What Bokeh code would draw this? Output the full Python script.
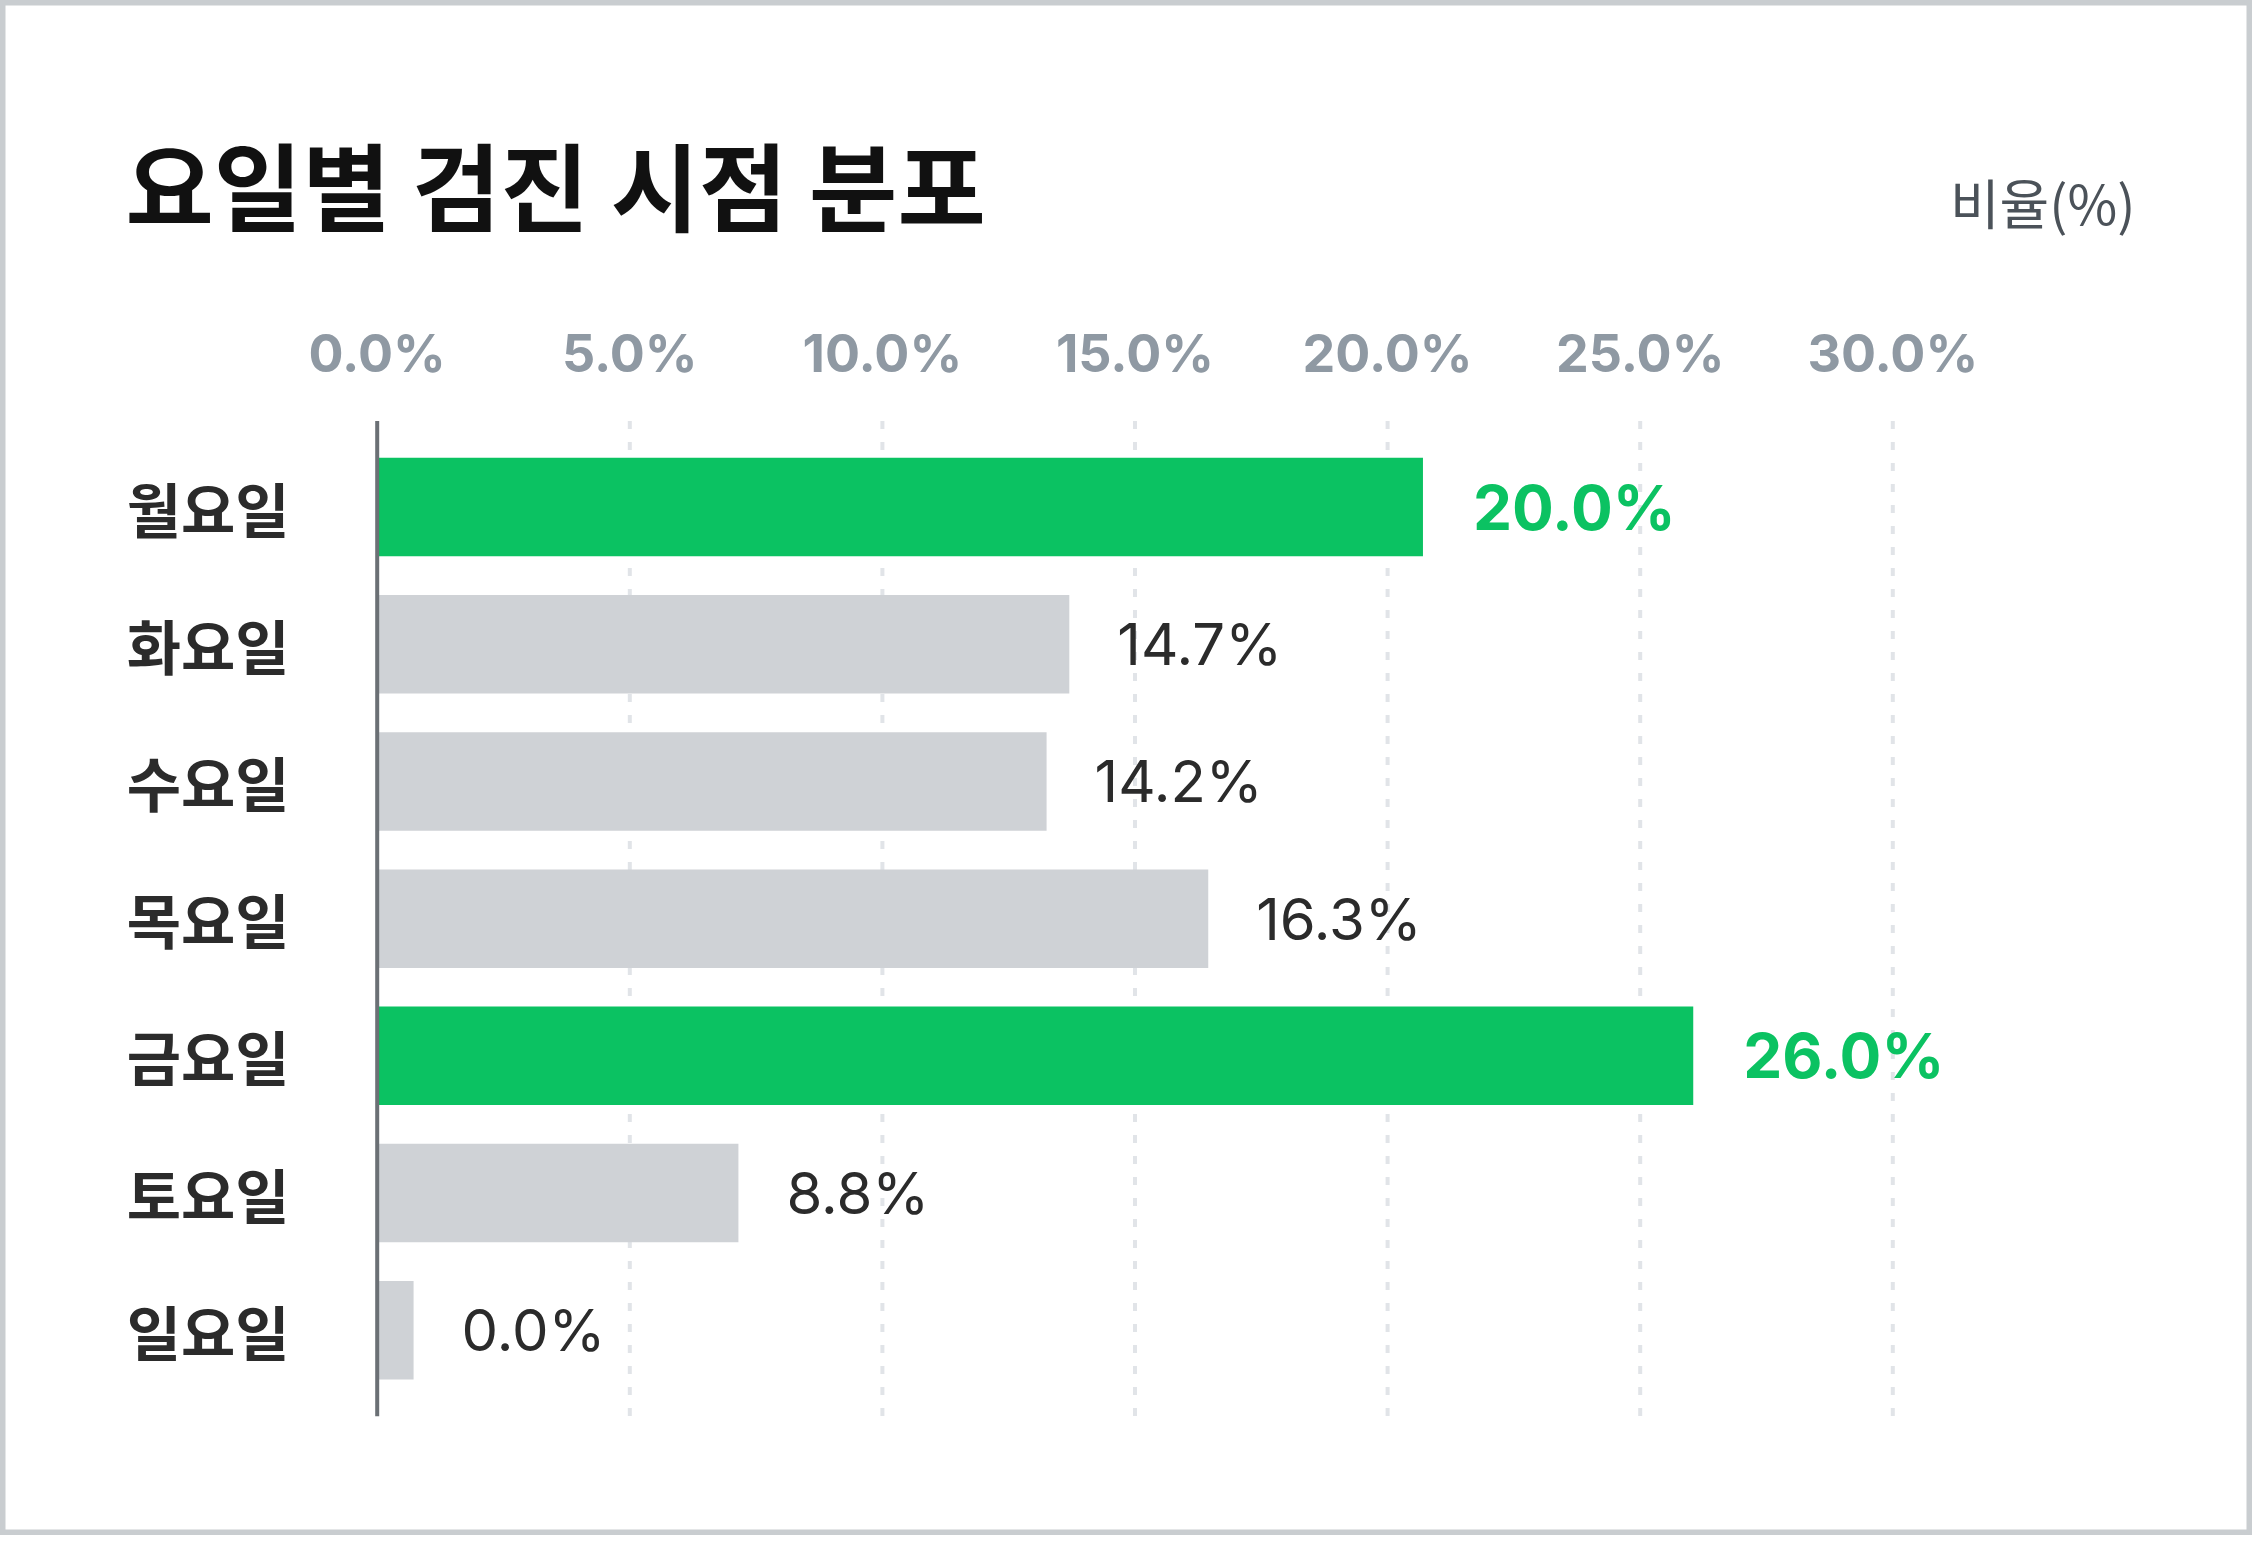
from bokeh.plotting import figure
from bokeh.models import Range1d, ColumnDataSource
from bokeh.core.properties import value
from bokeh.embed import file_html
from bokeh.resources import INLINE

# ---- data ----
days = ["월요일", "화요일", "수요일", "목요일", "금요일", "토요일", "일요일"]
bar_lengths = [20.7, 13.7, 13.25, 16.45, 26.05, 7.15, 0.72]   # drawn bar lengths (%)
value_labels = ["20.0%", "14.7%", "14.2%", "16.3%", "26.0%", "8.8%", "0.0%"]
highlight = [True, False, False, False, True, False, False]
tick_values = [0, 5, 10, 15, 20, 25, 30]
tick_labels = ["0.0%", "5.0%", "10.0%", "15.0%", "20.0%", "25.0%", "30.0%"]
title_text = "요일별 검진 시점 분포"
unit_text = "비율(%)"

# ---- styling / layout ----
GREEN = "#0bc262"
GRAY = "#cfd2d6"
KR = "Noto Sans CJK KR"
LAT = "Inter"

W, H = 2252, 1535          # canvas size (whole card)
PX_PER_PCT = 50.52         # horizontal scale
PX_PER_ROW = 137.18        # vertical scale (one category row)
ZERO_X = 376.7             # canvas px where 0 % sits
ROW0_Y = 506.6             # canvas px of the first row centre
ROW_PAD = 0.628            # axis extends this many rows beyond first/last centre


def cx(px):
    return (px - ZERO_X) / PX_PER_PCT


def cy(px):
    return (px - ROW0_Y) / PX_PER_ROW


rows = list(range(len(days)))
y_first, y_last = rows[0] - ROW_PAD, rows[-1] + ROW_PAD

p = figure(
    width=W, height=H,
    x_range=Range1d(cx(0), cx(W)),
    y_range=Range1d(cy(H), cy(0)),      # inverted: first day on top
    x_axis_type=None, y_axis_type=None,
    output_backend="svg", toolbar_location=None,
    min_border_left=0, min_border_right=0, min_border_top=0, min_border_bottom=0,
    background_fill_color="white", border_fill_color="white",
)
try:
    p.title = None
except Exception:
    p.title.visible = False
p.outline_line_color = "#c9cdd0"
p.outline_line_width = 10

# dashed vertical grid lines
grid_x = tick_values[1:]
p.segment(x0=grid_x, y0=[y_first] * len(grid_x), x1=grid_x, y1=[y_last] * len(grid_x),
          line_color="#e1e4e8", line_width=4, line_dash="8 13")

# bars
src = ColumnDataSource(dict(
    row=rows, day=days, length=bar_lengths, label=value_labels,
    color=[GREEN if h else GRAY for h in highlight],
))
p.hbar(y="row", left=0, right="length", height=0.718, fill_color="color",
       line_color=None, source=src)

# y axis line
p.segment(x0=[0], y0=[y_first], x1=[0], y1=[y_last], line_color="#6b7075", line_width=4)

# category labels (left)
p.text(x=cx(289), y="row", text="day", source=src, text_align="right",
       text_baseline="middle", text_font=value(KR), text_font_size="59px",
       text_font_style="bold", text_color="#2b2b2b")

# tick labels (top)
p.text(x=tick_values, y=[cy(353)] * len(tick_values), text=tick_labels,
       text_align="center", text_baseline="middle", text_font=value(LAT),
       text_font_size="52px", text_font_style="bold", text_color="#8f99a3")

# value labels
hi = ColumnDataSource(dict(
    row=[r for r, h in zip(rows, highlight) if h],
    length=[v for v, h in zip(bar_lengths, highlight) if h],
    label=[t for t, h in zip(value_labels, highlight) if h],
))
lo = ColumnDataSource(dict(
    row=[r for r, h in zip(rows, highlight) if not h],
    length=[v for v, h in zip(bar_lengths, highlight) if not h],
    label=[t for t, h in zip(value_labels, highlight) if not h],
))
p.text(x="length", y="row", text="label", source=hi, x_offset=50,
       text_align="left", text_baseline="middle", text_font=value(LAT),
       text_font_size="62px", text_font_style="bold", text_color=GREEN)
p.text(x="length", y="row", text="label", source=lo, x_offset=48,
       text_align="left", text_baseline="middle", text_font=value(LAT),
       text_font_size="58px", text_color="#2b2b2b")

# title
p.text(x=[cx(125)], y=[cy(182)], text=[title_text], text_align="left",
       text_baseline="middle", text_font=value(KR), text_font_size="96px",
       text_font_style="bold", text_color="#111111")

# unit label (top right)
p.text(x=[cx(2135)], y=[cy(201)], text=[unit_text], text_align="right",
       text_baseline="middle", text_font=value(KR), text_font_size="54px",
       text_color="#4b5259")

open("out.html", "w").write(file_html(p, INLINE))
